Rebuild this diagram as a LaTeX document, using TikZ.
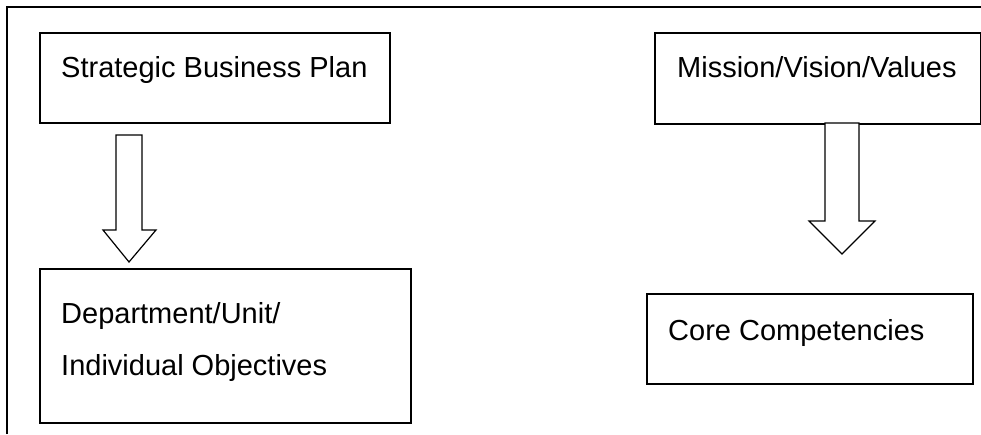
\documentclass[tikz,border=0pt]{standalone}
\usepackage{fontspec}
\setmainfont{Liberation Sans}
\begin{document}
\begin{tikzpicture}[x=1pt,y=-1pt,
  box/.style={draw,line width=1.6pt,rectangle,inner sep=0pt,anchor=north west},
  label/.style={anchor=base west,inner sep=0pt,font=\fontsize{29}{34}\selectfont},
  blockarrow/.style={draw,line width=1.2pt,line join=miter,fill=white}]
  \useasboundingbox (0,0) rectangle (981,434);

  % outer frame: top and left edges only
  \draw[line width=1.4pt] (7,434) -- (7,7) -- (981,7);

  % boxes
  \node[box,minimum width=350pt,minimum height=90pt] (plan) at (39,32) {};
  \node[box,minimum width=371pt,minimum height=154pt] (dept) at (39,268) {};
  \node[box,minimum width=326pt,minimum height=91pt] (mission) at (654,32) {};
  \node[box,minimum width=326pt,minimum height=90pt] (core) at (646,293) {};

  % texts
  \node[label] (tplan) at (61,77) {Strategic Business Plan};
  \node[label] (tdept1) at (61,323) {Department/Unit/};
  \node[label] (tdept2) at (61,375) {Individual Objectives};
  \node[label] (tmission) at (677,77) {Mission/Vision/Values};
  \node[label] (tcore) at (668,340) {Core Competencies};

  % block arrows
  \draw[blockarrow] (116,135) -- (142,135) -- (142,230) -- (156,230)
    -- (129,262) -- (103,230) -- (116,230) -- cycle;
  \draw[blockarrow] (825,123) -- (859,123) -- (859,221) -- (875,221)
    -- (842,254) -- (809,221) -- (825,221) -- cycle;
\end{tikzpicture}
\end{document}
